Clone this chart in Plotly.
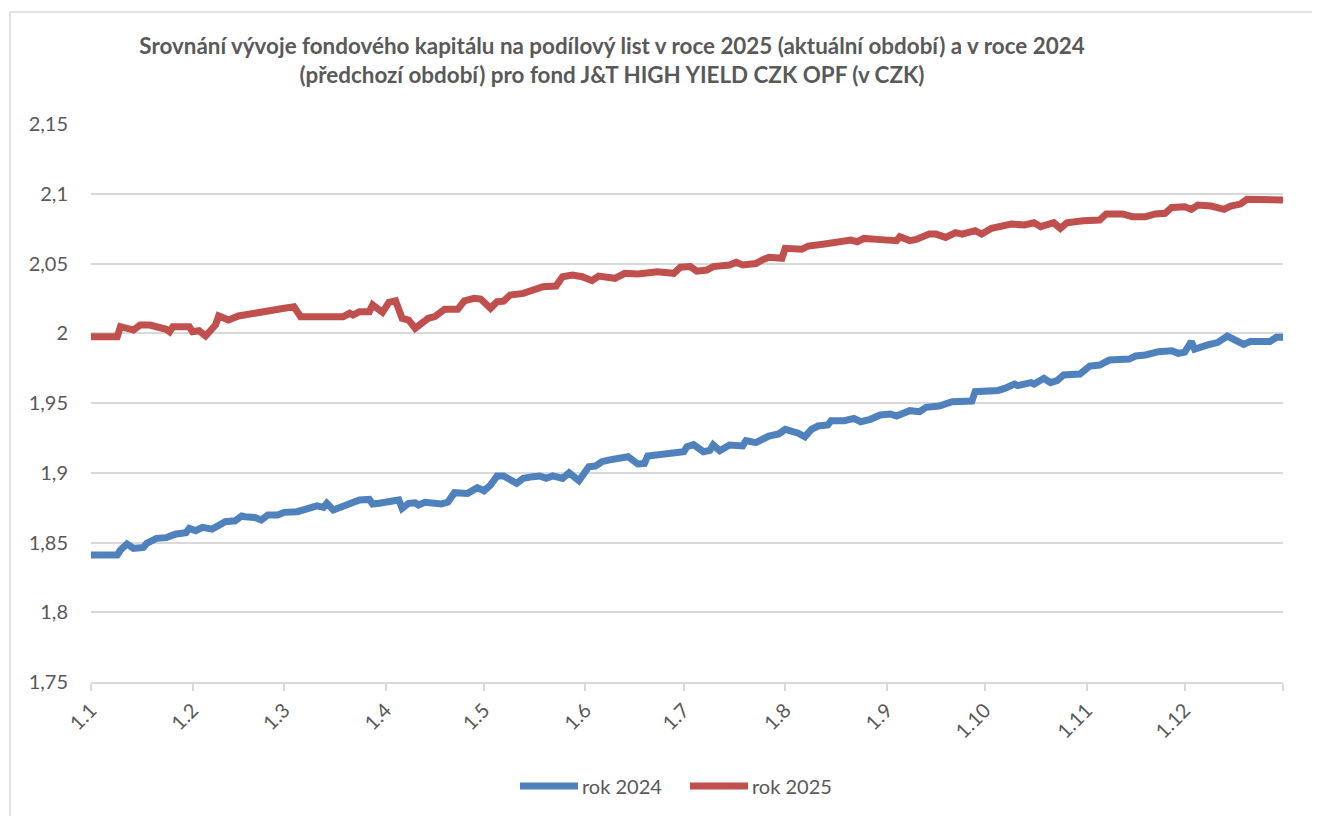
import plotly.graph_objects as go

# ---- data (day of year index, 0 = 1 Jan) ----
days_2025 = [0, 8, 9, 13, 15, 18, 23, 24, 25, 30, 31, 33, 35, 37, 38, 39, 42, 45, 48, 50, 54, 59, 62, 64, 67, 77,
             79, 80, 82, 85, 86, 89, 91, 93, 95, 97, 99, 101, 103, 105, 108, 112, 114, 117, 119, 122, 124, 126, 128,
             132, 135, 138, 142, 144, 147, 150, 153, 155, 160, 163, 167, 169, 173, 178, 180, 183, 185, 188, 190, 195,
             197, 199, 203, 205, 207, 211, 212, 217, 219, 224, 226, 230, 232, 234, 236, 240, 246, 247, 250, 252, 256,
             258, 261, 264, 266, 270, 272, 275, 278, 281, 285, 288, 290, 294, 296, 298, 303, 308, 310, 315, 318, 322,
             325, 328, 330, 334, 336, 338, 342, 345, 346, 348, 351, 353, 364]
vals_2025 = [1.9975, 1.9975, 2.0047, 2.0023, 2.0059, 2.0059, 2.0028, 2.0011, 2.0047, 2.0047, 2.0011, 2.0018, 1.9980,
             2.0047, 2.0059, 2.0124, 2.0095, 2.0124, 2.0136, 2.0155, 2.0163, 2.0179, 2.0190, 2.0119, 2.0119, 2.0119,
             2.0143, 2.0130, 2.0155, 2.0155, 2.0203, 2.0150, 2.0222, 2.0233, 2.0107, 2.0095, 2.0035, 2.0071, 2.0107,
             2.0119, 2.0172, 2.0172, 2.0233, 2.0250, 2.0245, 2.0179, 2.0226, 2.0230, 2.0274, 2.0286, 2.0315, 2.0334,
             2.0338, 2.0405, 2.0418, 2.0405, 2.0377, 2.0410, 2.0394, 2.0430, 2.0425, 2.0434, 2.0441, 2.0430, 2.0473,
             2.0478, 2.0445, 2.0453, 2.0478, 2.0489, 2.0508, 2.0489, 2.0500, 2.0525, 2.0544, 2.0537, 2.0609, 2.0602,
             2.0625, 2.0640, 2.0645, 2.0656, 2.0668, 2.0656, 2.0680, 2.0673, 2.0664, 2.0692, 2.0664, 2.0673, 2.0711,
             2.0711, 2.0687, 2.0721, 2.0711, 2.0735, 2.0711, 2.0752, 2.0769, 2.0783, 2.0776, 2.0792, 2.0764, 2.0792,
             2.0752, 2.0792, 2.0807, 2.0812, 2.0855, 2.0855, 2.0836, 2.0836, 2.0855, 2.0860, 2.0902, 2.0907, 2.0888,
             2.0919, 2.0912, 2.0902, 2.0888, 2.0912, 2.0926, 2.0960, 2.0955]

days_2024 = [0, 8, 9, 11, 13, 16, 17, 20, 23, 26, 29, 30, 32, 34, 37, 38, 41, 44, 46, 47, 50, 52, 54, 57, 59, 63, 65,
             68, 69, 71, 72, 74, 77, 79, 82, 85, 86, 88, 91, 94, 95, 97, 99, 100, 102, 106, 107, 109, 111, 115, 118,
             120, 122, 124, 126, 130, 132, 135, 137, 139, 141, 144, 146, 149, 152, 154, 156, 158, 162, 164, 167, 169,
             170, 175, 178, 181, 182, 184, 187, 189, 190, 192, 195, 199, 200, 203, 207, 210, 212, 214, 216, 218, 220,
             222, 225, 226, 230, 233, 235, 238, 241, 244, 246, 250, 253, 255, 259, 263, 267, 269, 270, 274, 277, 279,
             282, 283, 287, 288, 291, 293, 295, 297, 302, 305, 308, 311, 315, 317, 319, 322, 326, 330, 332, 334, 336,
             337, 341, 344, 347, 349, 351, 352, 354, 360, 362, 364]
vals_2024 = [1.8410, 1.8410, 1.8446, 1.8489, 1.8458, 1.8465, 1.8494, 1.8530, 1.8535, 1.8561, 1.8570, 1.8601, 1.8585,
             1.8609, 1.8596, 1.8609, 1.8649, 1.8656, 1.8690, 1.8685, 1.8680, 1.8661, 1.8697, 1.8697, 1.8716, 1.8721,
             1.8738, 1.8752, 1.8762, 1.8752, 1.8781, 1.8733, 1.8757, 1.8769, 1.8805, 1.8809, 1.8776, 1.8781, 1.8793,
             1.8805, 1.8745, 1.8781, 1.8785, 1.8769, 1.8788, 1.8788, 1.8776, 1.8790, 1.8857, 1.8852, 1.8893, 1.8871,
             1.8912, 1.8977, 1.8977, 1.8924, 1.8960, 1.8972, 1.8977, 1.8960, 1.8977, 1.8960, 1.9000, 1.8943, 1.9043,
             1.9048, 1.9079, 1.9091, 1.9111, 1.9115, 1.9063, 1.9067, 1.9120, 1.9134, 1.9144, 1.9150, 1.9187, 1.9202,
             1.9151, 1.9160, 1.9199, 1.9158, 1.9199, 1.9192, 1.9230, 1.9216, 1.9263, 1.9278, 1.9311, 1.9300, 1.9283,
             1.9258, 1.9311, 1.9335, 1.9342, 1.9373, 1.9373, 1.9390, 1.9366, 1.9383, 1.9414, 1.9421, 1.9407, 1.9445,
             1.9438, 1.9469, 1.9478, 1.9509, 1.9514, 1.9514, 1.9581, 1.9585, 1.9590, 1.9605, 1.9636, 1.9625, 1.9646,
             1.9636, 1.9677, 1.9646, 1.9660, 1.9701, 1.9708, 1.9765, 1.9772, 1.9808, 1.9820, 1.9815, 1.9837, 1.9844,
             1.9868, 1.9875, 1.9856, 1.9865, 1.9940, 1.9885, 1.9916, 1.9933, 1.9980, 1.9952, 1.9928, 1.9920, 1.9940,
             1.9940, 1.9971, 1.9971]

month_start_days = [0, 31, 59, 90, 120, 151, 181, 212, 243, 273, 304, 334]
month_labels = ["1.1", "1.2", "1.3", "1.4", "1.5", "1.6", "1.7", "1.8", "1.9", "1.10", "1.11", "1.12"]
last_day = 364

y_ticks = [1.75, 1.80, 1.85, 1.90, 1.95, 2.00, 2.05, 2.10, 2.15]
y_labels = ["1,75", "1,8", "1,85", "1,9", "1,95", "2", "2,05", "2,1", "2,15"]

series_names = ["rok 2024", "rok 2025"]
colors = ["#4F81BD", "#C0504D"]

title_text = ("<b>Srovnání vývoje fondového kapitálu na podílový list v roce 2025 (aktuální období) a v roce 2024"
              "<br>(předchozí období) pro fond J&T HIGH YIELD CZK OPF (v CZK)</b>")

FONT = "Lato, Carlito, Calibri, sans-serif"
TXT = "#595959"
GRID = "#d9d9d9"

OFF = 8                     # page body margin of the browser
W, H = 1320 - OFF, 816 - OFF
# plot area in viewport pixels
L, R, T, B = 91, 1283, 124, 682


def px_x(px):
    return (px - L) / (R - L)


def px_y(py):
    return (B - py) / (B - T)


fig = go.Figure()
fig.add_trace(go.Scatter(x=days_2024, y=vals_2024, mode="lines", name=series_names[0],
                         line=dict(color=colors[0], width=7), showlegend=False))
fig.add_trace(go.Scatter(x=days_2025, y=vals_2025, mode="lines", name=series_names[1],
                         line=dict(color=colors[1], width=7), showlegend=False))

shapes = []
# outer chart frame
shapes.append(dict(type="rect", xref="paper", yref="paper",
                   x0=px_x(10), x1=px_x(1400), y0=px_y(900), y1=px_y(12),
                   line=dict(color=GRID, width=1.5), fillcolor="rgba(0,0,0,0)", layer="below"))

annotations = []
# custom legend
leg_y = 786
for i, (name, col) in enumerate(zip(series_names, colors)):
    x0 = 520 + i * 170
    shapes.append(dict(type="line", xref="paper", yref="paper",
                       x0=px_x(x0), x1=px_x(x0 + 58), y0=px_y(leg_y), y1=px_y(leg_y),
                       line=dict(color=col, width=7)))
    annotations.append(dict(xref="paper", yref="paper", x=px_x(x0 + 60), y=px_y(leg_y),
                            xanchor="left", yanchor="middle", showarrow=False,
                            text=name, font=dict(family=FONT, size=20, color=TXT)))

fig.update_layout(
    width=W, height=H,
    margin=dict(l=L - OFF, r=W - (R - OFF), t=T - OFF, b=H - (B - OFF), pad=0),
    paper_bgcolor="white", plot_bgcolor="white",
    font=dict(family=FONT, color=TXT, size=20),
    title=dict(text=title_text, xref="container", yref="container",
               x=(612 - OFF) / W, xanchor="center", y=1 - 46 / H, yanchor="top",
               font=dict(family=FONT, size=22.4, color=TXT)),
    shapes=shapes, annotations=annotations,
    showlegend=False,
)
fig.update_xaxes(range=[0, last_day], tickvals=month_start_days + [last_day], ticktext=month_labels + [""],
                 tickangle=-45, ticks="outside", ticklen=7, tickcolor=GRID, tickwidth=1.5,
                 showline=True, linecolor=GRID, linewidth=1.5, showgrid=False, zeroline=False,
                 tickfont=dict(family=FONT, size=20, color=TXT))
fig.update_yaxes(range=[1.75, 2.15], tickvals=y_ticks, ticktext=y_labels,
                 showgrid=True, gridcolor=GRID, gridwidth=1.5, showline=False, zeroline=False,
                 ticks="", ticklabelstandoff=22,
                 tickfont=dict(family=FONT, size=20, color=TXT))

fig.write_html("out.html")
